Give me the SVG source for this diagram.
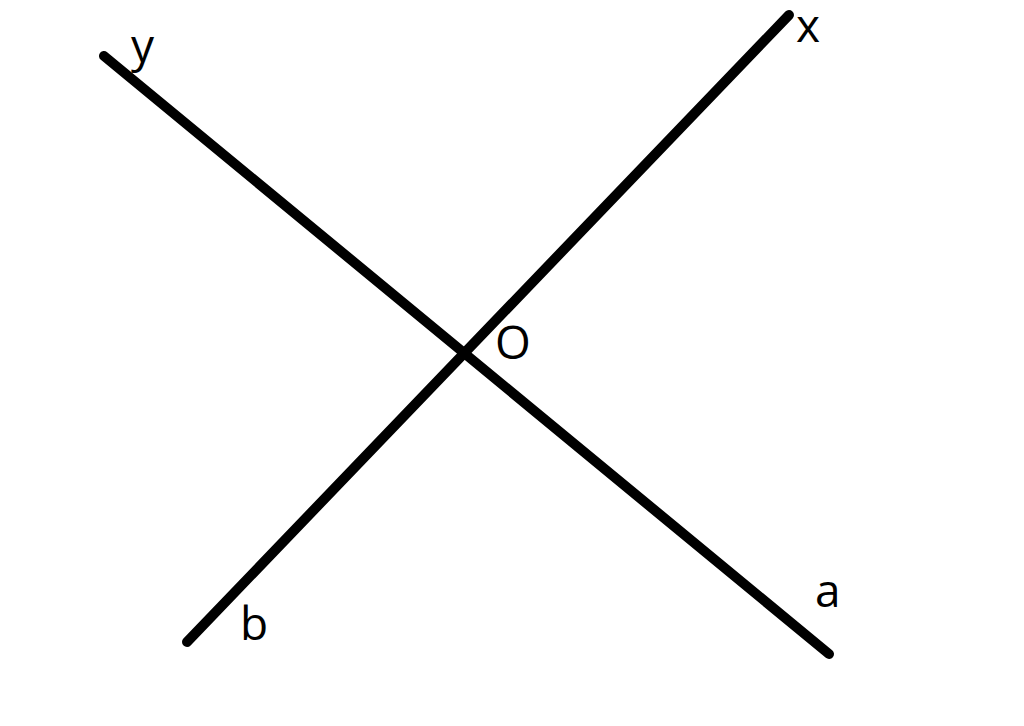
<svg xmlns="http://www.w3.org/2000/svg" width="1024" height="726" viewBox="0 0 1024 726">
<style>
.ln{stroke:#000;stroke-width:10;stroke-linecap:round;fill:none}
.lb{font-family:"Open Sans","Liberation Sans",sans-serif;font-size:46px;fill:#000}
</style>
<rect width="1024" height="726" fill="#fff"/>
<g id="connectors">
<line id="line-xb" class="ln" x1="187" y1="642" x2="789" y2="15"/>
<line id="line-ya" class="ln" x1="104" y1="56" x2="829" y2="654"/>
</g>
<g id="label-y"><text class="lb" x="131" y="62">y</text></g>
<g id="label-x"><text class="lb" x="796" y="42">x</text></g>
<g id="label-O"><text class="lb" x="495" y="359">O</text></g>
<g id="label-a"><text class="lb" x="815" y="607">a</text></g>
<g id="label-b"><text class="lb" x="240" y="640">b</text></g>
</svg>
